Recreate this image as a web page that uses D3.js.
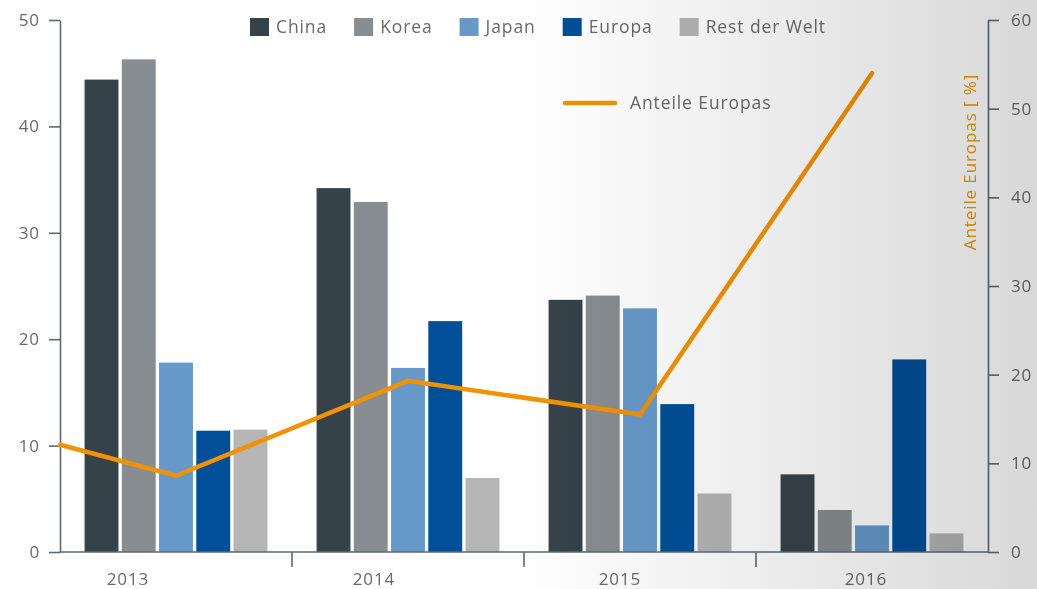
<!DOCTYPE html>
<html>
<head>
<meta charset="utf-8">
<script src="https://cdn.jsdelivr.net/npm/d3@7"></script>
<style>
  body { margin: 0; background: #fff; }
  text { font-family: "Open Sans", "Noto Sans", sans-serif; letter-spacing: 0.9px; }
</style>
</head>
<body>
<div class="svg-canvas"></div>
<script>
// Data
var years = ["2013", "2014", "2015", "2016"];
var series = ["China", "Korea", "Japan", "Europa", "Rest der Welt"];
var colors = ["#36424a", "#878d90", "#6699c9", "#004f98", "#b5b5b5"];

var china  = [44.4, 34.2, 23.7, 7.3];
var korea  = [46.3, 32.9, 24.1, 3.95];
var japan  = [17.8, 17.3, 22.9, 2.5];
var europa = [11.4, 21.7, 13.9, 18.1];
var rest   = [11.5, 6.95, 5.5, 1.75];

// share of Europe (right axis), first point sits on the left edge
var shareYears = [2012.5, 2013, 2014, 2015, 2016];
var shareEuropa = [12.1, 8.6, 19.3, 15.5, 54.0];

var leftTicks = [0, 10, 20, 30, 40, 50];
var rightTicks = [0, 10, 20, 30, 40, 50, 60];

var values = [china, korea, japan, europa, rest];

// Canvas
var W = 1037, H = 589;
var m = { top: 20, left: 60, right: 49, bottom: 37 };

var svg = d3.select(".svg-canvas").append("svg")
    .attr("width", W)
    .attr("height", H);

var defs = svg.append("defs");
var grad = defs.append("linearGradient")
    .attr("id", "shade")
    .attr("x1", 0).attr("x2", 1).attr("y1", 0).attr("y2", 0);
grad.append("stop").attr("offset", "0.5").attr("stop-color", "#ffffff");
grad.append("stop").attr("offset", "1").attr("stop-color", "#d8d8d8");

var axisColor = "#5e6a72";
var textColor = "#696969";
var orange = "#f39200";
var fs = "17px";
var fsLegend = "17.5px";

// Scales
var x = d3.scaleBand().domain(years).range([m.left, W - m.right]);
var xi = d3.scaleBand().domain(series).range([0, x.bandwidth()])
    .paddingInner(0.09).paddingOuter(0.66);
var xl = d3.scaleLinear().domain([2012.5, 2016.5]).range([m.left, W - m.right]);
var yL = d3.scaleLinear().domain([0, 50]).range([H - m.bottom, m.top]);
var yR = d3.scaleLinear().domain([0, 60]).range([H - m.bottom, m.top]);
var xLabel = d3.scalePoint().domain(years).range([128, 866]);

// Bars
var groups = svg.append("g").selectAll("g")
    .data(years)
    .enter().append("g")
    .attr("transform", function(d){ return "translate(" + x(d) + ",0)"; });

groups.selectAll("rect")
    .data(function(d, i){
        return series.map(function(s, j){ return { s: s, v: values[j][i], c: colors[j] }; });
    })
    .enter().append("rect")
    .attr("x", function(d){ return xi(d.s); })
    .attr("y", function(d){ return yL(d.v); })
    .attr("width", xi.bandwidth())
    .attr("height", function(d){ return yL(0) - yL(d.v); })
    .attr("fill", function(d){ return d.c; });

// Left axis
var gl = svg.append("g")
    .attr("transform", "translate(" + m.left + ",0)")
    .call(d3.axisLeft(yL).tickValues(leftTicks).tickSize(11).tickSizeOuter(0).tickPadding(9));

// Right axis
var gr = svg.append("g")
    .attr("transform", "translate(" + (W - m.right) + ",0)")
    .call(d3.axisRight(yR).tickValues(rightTicks).tickSize(11).tickSizeOuter(0).tickPadding(12));

[gl, gr].forEach(function(g){
    g.select(".domain").attr("stroke", axisColor).attr("stroke-width", 1.6);
    g.selectAll(".tick line").attr("stroke", axisColor).attr("stroke-width", 1.6);
    g.selectAll(".tick text").attr("fill", textColor)
        .style("font-size", fs).style("font-family", "'Open Sans', sans-serif");
});

// Bottom axis line and group separators
var gb = svg.append("g");
gb.append("line")
    .attr("x1", m.left).attr("x2", W - m.right)
    .attr("y1", yL(0)).attr("y2", yL(0))
    .attr("stroke", axisColor).attr("stroke-width", 1.6);
gb.selectAll("line.sep")
    .data(years.slice(1))
    .enter().append("line")
    .attr("class", "sep")
    .attr("x1", function(d){ return x(d); }).attr("x2", function(d){ return x(d); })
    .attr("y1", yL(0)).attr("y2", yL(0) + 15)
    .attr("stroke", axisColor).attr("stroke-width", 1.6);
gb.selectAll("text")
    .data(years)
    .enter().append("text")
    .attr("x", function(d){ return xLabel(d); })
    .attr("y", yL(0) + 33)
    .attr("text-anchor", "middle")
    .attr("fill", textColor)
    .style("font-size", fs)
    .text(function(d){ return d; });

// Right axis title
svg.append("text")
    .attr("transform", "translate(976,162) rotate(-90)")
    .attr("text-anchor", "middle")
    .attr("fill", orange)
    .style("font-size", fs)
    .text("Anteile Europas [ %]");

// Line
var line = d3.line()
    .x(function(d, i){ return xl(shareYears[i]); })
    .y(function(d){ return yR(d); });

svg.append("path")
    .datum(shareEuropa)
    .attr("d", line)
    .attr("fill", "none")
    .attr("stroke", orange)
    .attr("stroke-width", 4.5)
    .attr("stroke-linejoin", "miter")
    .attr("stroke-linecap", "round");

// Legend (top)
var lg = svg.append("g").attr("transform", "translate(250,18)");
var lx = 0;
series.forEach(function(s, j){
    var it = lg.append("g").attr("transform", "translate(" + lx + ",0)");
    it.append("rect").attr("width", 19).attr("height", 18).attr("fill", colors[j]);
    var t = it.append("text")
        .attr("x", 26).attr("y", 15)
        .attr("fill", textColor)
        .style("font-size", fsLegend)
        .text(s);
    lx += 26 + t.node().getComputedTextLength() + 27;
});

// Legend for line
var ll = svg.append("g").attr("transform", "translate(565,103)");
ll.append("line")
    .attr("x1", 0).attr("x2", 50)
    .attr("stroke", orange).attr("stroke-width", 4.5)
    .attr("stroke-linecap", "round");
ll.append("text")
    .attr("x", 65).attr("y", 6)
    .attr("fill", textColor)
    .style("font-size", fsLegend)
    .text("Anteile Europas");

// Shading over the right half
svg.append("rect")
    .attr("width", W).attr("height", H)
    .attr("fill", "url(#shade)")
    .style("mix-blend-mode", "multiply")
    .style("pointer-events", "none");
</script>
</body>
</html>
